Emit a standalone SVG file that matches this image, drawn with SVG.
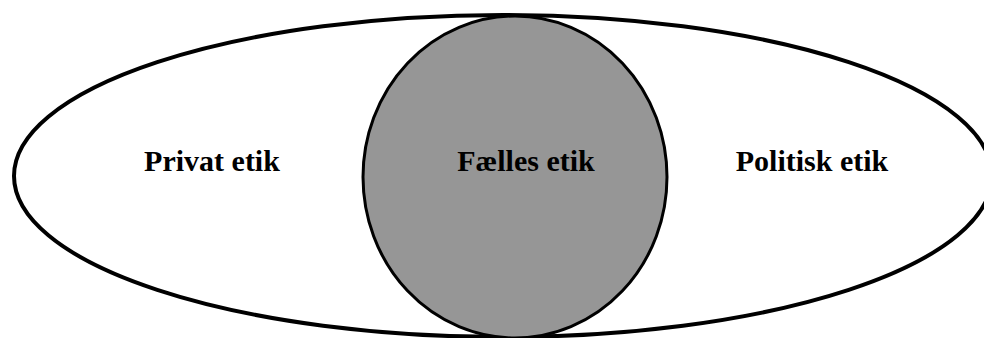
<svg xmlns="http://www.w3.org/2000/svg" width="984" height="338" viewBox="0 0 984 338">
<style>
.lbl{font-family:"Liberation Serif","Times New Roman",serif;font-weight:bold;font-size:30px;fill:#000;text-anchor:middle}
</style>
<rect width="984" height="338" fill="#fff"/>
<g id="outer">
<ellipse cx="503" cy="176" rx="489" ry="161" fill="#fff" stroke="#000" stroke-width="4"/>
</g>
<g id="private"><text class="lbl" x="212" y="171">Privat etik</text></g>
<g id="political"><text class="lbl" x="812" y="171">Politisk etik</text></g>
<g id="common">
<ellipse cx="515" cy="177" rx="152" ry="161" fill="#969696" stroke="#000" stroke-width="3"/>
<text class="lbl" x="526" y="171">Fælles etik</text>
</g>
<g id="connectors"/>
</svg>
